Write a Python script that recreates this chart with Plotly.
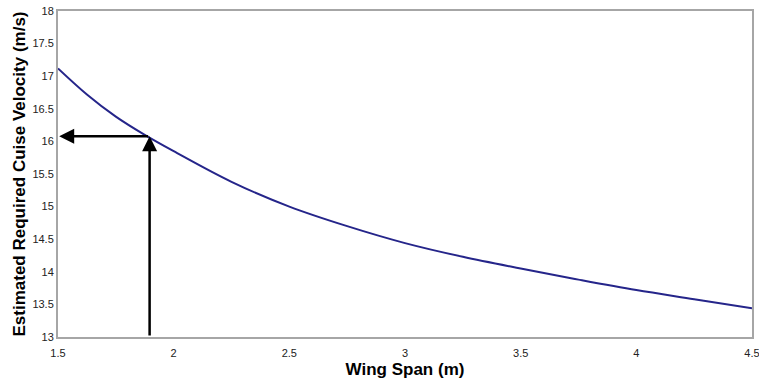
"""Wing span vs estimated required cruise velocity"""
import plotly.graph_objects as go

# values
wing_span = [1.5, 1.625, 1.75, 1.875, 2.0, 2.25, 2.5, 2.75, 3.0,
             3.25, 3.5, 3.75, 4.0, 4.25, 4.5]
velocity = [17.12, 16.72, 16.38, 16.10, 15.85, 15.38, 15.00, 14.70, 14.44,
            14.23, 14.05, 13.88, 13.72, 13.58, 13.44]

# design point marked with arrows
design_span = 1.896
design_velocity = 16.08

x_ticks = [1.5, 2, 2.5, 3, 3.5, 4, 4.5]
x_labels = ["1.5", "2", "2.5", "3", "3.5", "4", "4.5"]
y_ticks = [13, 13.5, 14, 14.5, 15, 15.5, 16, 16.5, 17, 17.5, 18]
y_labels = ["13", "13.5", "14", "14.5", "15", "15.5", "16", "16.5", "17", "17.5", "18"]

fig = go.Figure()
fig.add_trace(go.Scatter(
    x=wing_span, y=velocity, mode="lines",
    line=dict(color="#25258a", width=2, shape="spline", smoothing=1),
    showlegend=False, hoverinfo="skip"
))

# vertical arrow up to the curve
fig.add_annotation(x=design_span, y=design_velocity, ax=design_span, ay=13,
                   xref="x", yref="y", axref="x", ayref="y", text="",
                   showarrow=True, arrowhead=2, arrowsize=1.2, arrowwidth=2.5,
                   arrowcolor="black", standoff=0)
# horizontal arrow over to the y axis
fig.add_annotation(x=1.505, y=design_velocity, ax=design_span, ay=design_velocity,
                   xref="x", yref="y", axref="x", ayref="y", text="",
                   showarrow=True, arrowhead=2, arrowsize=1.2, arrowwidth=2.5,
                   arrowcolor="black", standoff=0)

axis_style = dict(showline=True, linecolor="#a6a6a6", linewidth=2, mirror=True,
                  showgrid=False, zeroline=False, ticks="", ticklabeloverflow="allow",
                  automargin=False,
                  tickfont=dict(family="Liberation Sans, Arial", size=11, color="#222"))

fig.update_xaxes(range=[1.5, 4.5], tickvals=x_ticks, ticktext=x_labels, ticklabelstandoff=5,
                 title=dict(text="<b>Wing Span (m)</b>", standoff=5,
                            font=dict(family="Liberation Sans, Arial", size=17, color="black")),
                 **axis_style)
fig.update_yaxes(range=[13, 18], tickvals=y_ticks, ticktext=y_labels,
                 title=dict(text="<b>Estimated Required Cuise Velocity (m/s)</b>", standoff=2,
                            font=dict(family="Liberation Sans, Arial", size=17, color="black")),
                 **axis_style)

fig.update_layout(width=759, height=379, plot_bgcolor="white", paper_bgcolor="white",
                  margin=dict(l=58, r=7, t=11, b=42))
# drop the default body margin so the figure fills the window
fig.write_html("out.html", config={"displayModeBar": False},
               post_script="document.body.style.margin='0';")
